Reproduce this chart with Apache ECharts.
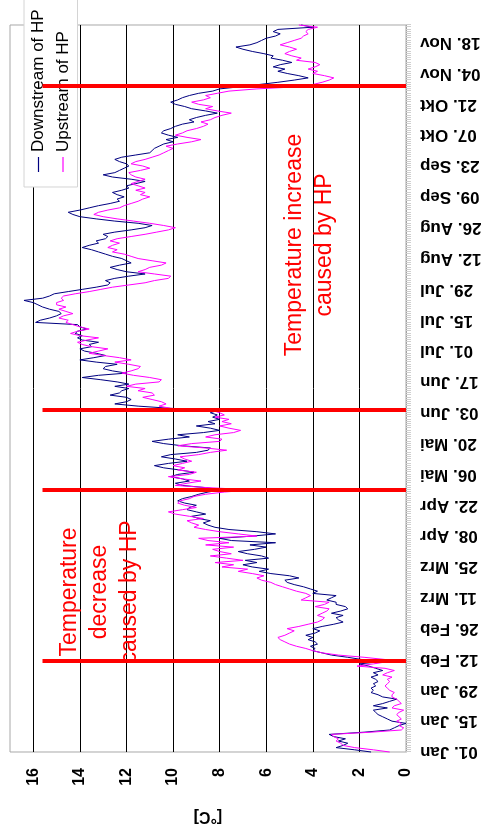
<!DOCTYPE html>
<html>
<head>
<meta charset="utf-8">
<script src="https://cdn.jsdelivr.net/npm/echarts@6/dist/echarts.min.js"></script>
<style>
  html, body { margin: 0; padding: 0; background: #fff; }
  #frame { position: absolute; left: 0; top: 0; width: 493px; height: 832px; overflow: hidden; }
  /* chart is laid out landscape and turned a quarter turn anticlockwise */
  #chart { position: absolute; left: 0; top: 0; width: 832px; height: 493px;
           transform-origin: 0 0; transform: translate(0, 832px) rotate(-90deg); }
</style>
</head>
<body>
<div id="frame"><div id="chart"></div></div>
<script>
// daily water temperature, 01. Jan to 26. Nov (leap year)
const monthNames = ['Jan', 'Feb', 'Mrz', 'Apr', 'Mai', 'Jun', 'Jul', 'Aug', 'Sep', 'Okt', 'Nov', 'Dez'];
const monthLengths = [31, 29, 31, 30, 31, 30, 31, 31, 30, 31, 30, 31];
const dayCount = 331;

const downstream = [
  1.5, 2.2, 3.0, 2.7, 2.5, 2.9, 2.6, 3.1, 3.3, 1.8, 0.7,
  0.5, 0.3, 0.0, 0.6, 0.8, 1.0, 1.2, 1.3, 1.4, 0.8,
  1.4, 1.0, 0.7, 0.4, 1.0, 1.2, 1.5, 1.4, 1.5, 1.3,
  1.4, 1.2, 1.3, 1.5, 1.2, 1.4, 1.0, 1.3, 1.6, 2.0,
  1.1, 1.9, 2.5, 3.2, 3.6, 4.0, 3.9, 4.1, 3.8, 3.9,
  4.2, 4.0, 4.3, 3.9, 3.7, 4.0, 3.6, 3.1, 2.7, 2.9,
  3.0, 2.7, 3.2, 2.8, 2.5, 2.6, 3.0, 3.0, 3.4, 3.2,
  3.0, 4.0, 3.8, 4.1, 4.4, 4.8, 5.1, 5.2, 4.6, 5.0,
  5.8, 6.3, 5.9, 6.6, 7.0, 6.4, 6.9, 5.9, 6.2, 6.8,
  7.2, 6.5, 6.0, 6.7, 5.6, 7.5, 8.0, 6.6, 5.6, 6.4,
  7.6, 8.2, 8.5, 8.7, 8.4, 8.9, 9.2, 8.6, 9.0, 9.4,
  9.3, 9.0, 9.5, 9.8, 9.6, 9.2, 8.9, 8.5, 7.9, 8.6,
  9.6, 9.9, 9.3, 9.6, 10.1, 9.8, 9.1, 9.7, 10.4, 10.8,
  10.2, 9.4, 9.9, 10.5, 10.1, 9.0, 8.5, 8.4, 9.6, 10.4,
  10.9, 10.2, 9.3, 9.8, 8.7, 8.0, 8.4, 9.0, 8.2, 8.5,
  8.0, 8.3, 8.1, 8.4, 8.1, 10.1, 11.5, 12.5, 12.0, 11.8,
  12.0, 12.7, 12.3, 12.2, 11.9, 12.5, 11.9, 12.4, 13.1, 13.9,
  13.2, 12.0, 12.6, 13.0, 12.9, 12.4, 13.3, 14.0, 13.4, 12.9,
  13.3, 13.8, 14.0, 13.5, 13.6, 13.2, 13.9, 14.1, 13.9, 14.2,
  14.1, 13.7, 14.0, 14.1, 15.9, 15.7, 15.3, 15.0, 14.8, 14.9,
  15.3, 15.6, 15.8, 16.0, 16.4, 15.6, 15.3, 15.1, 14.5, 13.9,
  13.3, 12.8, 12.7, 12.9, 12.5, 11.9, 11.2, 12.0, 12.4, 12.7,
  12.3, 11.8, 12.0, 12.2, 12.6, 12.9, 13.2, 13.5, 13.9, 13.6,
  13.2, 13.3, 12.9, 12.8, 13.0, 12.5, 11.8, 11.2, 10.9, 11.5,
  12.5, 13.3, 14.0, 14.3, 14.5, 14.0, 13.6, 13.2, 12.7, 12.3,
  12.4, 12.1, 12.4, 12.6, 12.2, 11.9, 12.0, 11.6, 11.2, 11.8,
  12.6, 13.0, 12.5, 12.3, 12.1, 11.9, 12.0, 12.3, 12.5, 12.2,
  11.6, 11.0, 10.9, 10.8, 10.6, 10.4, 10.0, 10.3, 9.8, 10.2,
  10.5, 10.4, 10.1, 9.9, 9.6, 9.1, 9.3, 9.0, 8.6, 8.1,
  8.6, 9.2, 9.5, 9.9, 10.1, 9.8, 9.6, 9.3, 8.9, 8.3,
  8.0, 7.1, 6.3, 5.5, 4.8, 4.2, 4.6, 5.1, 5.5, 5.2,
  5.7, 5.4, 4.9, 5.3, 5.8, 5.7, 6.1, 6.6, 7.0, 7.3,
  6.7, 6.4, 6.2, 6.0, 5.6, 5.4, 5.7, 5.5, 4.0, 4.5
];

const upstream = [
  0.7, 1.4, 2.2, 2.7, 2.8, 3.0, 2.9, 3.1, 3.2, 1.5, 0.2,
  0.1, 0.3, 0.2, 0.4, 0.2, 0.3, 0.4, 0.3, 0.1, 0.6,
  0.5, 0.2, 0.3, 0.4, 0.6, 0.6, 0.5, 0.7, 0.8, 0.9,
  0.8, 0.7, 0.8, 0.6, 1.0, 0.8, 0.5, 0.9, 2.1, 1.4,
  0.8, 0.9, 1.8, 2.9, 3.6, 4.0, 4.3, 4.7, 5.0, 5.2,
  5.4, 5.5, 5.2, 5.0, 4.8, 5.1, 4.6, 4.2, 3.8, 3.6,
  3.5, 3.8, 3.6, 3.4, 3.3, 3.9, 3.5, 3.3, 4.5, 4.3,
  4.1, 4.3, 4.7, 5.0, 5.3, 5.6, 5.8, 6.2, 6.4, 6.1,
  6.6, 7.2, 6.8, 7.9, 7.4, 8.2, 7.0, 7.7, 8.4, 7.5,
  8.0, 8.3, 7.4, 8.6, 7.6, 8.5, 8.9, 6.4, 7.2, 8.0,
  8.6, 9.1, 8.9, 9.2, 9.4, 8.7, 9.3, 9.9, 10.2, 9.6,
  9.0, 9.5, 9.8, 9.7, 9.3, 9.1, 8.6, 7.8, 6.6, 8.5,
  9.9, 9.4, 8.8, 9.6, 10.2, 9.3, 9.0, 9.8, 9.5, 10.0,
  9.6, 9.2, 9.5, 9.7, 8.9, 8.4, 7.7, 8.6, 9.8, 9.2,
  8.0, 7.9, 8.6, 8.2, 7.4, 7.1, 7.6, 8.0, 7.5, 7.9,
  7.6, 8.2, 7.8, 8.0, 8.3, 10.1, 10.6, 10.3, 10.5, 10.9,
  11.3, 10.8, 10.9, 11.5, 11.2, 12.0, 11.6, 10.6, 10.5, 11.0,
  11.7, 12.2, 11.8, 11.5, 11.4, 11.9, 12.5, 11.8, 12.3, 13.0,
  13.6, 13.2, 12.8, 13.5, 13.9, 14.1, 13.7, 13.2, 14.0, 14.4,
  14.1, 13.6, 14.0, 14.3, 14.6, 14.5, 14.9, 14.7, 14.3, 14.6,
  14.9, 14.6, 15.0, 15.0, 14.7, 14.8, 14.7, 14.2, 13.6, 13.1,
  12.6, 11.9, 11.2, 10.8, 10.2, 10.1, 10.8, 11.5, 11.2, 11.0,
  10.5, 10.3, 10.9, 11.5, 11.8, 12.1, 12.6, 12.4, 12.8, 12.6,
  12.3, 12.7, 12.4, 11.8, 11.2, 10.7, 10.2, 9.9, 10.4, 11.0,
  11.7, 12.4, 13.0, 13.4, 13.2, 12.8, 12.3, 12.1, 11.8, 11.5,
  11.3, 11.0, 11.4, 11.2, 11.6, 11.2, 11.5, 11.8, 11.5, 11.2,
  11.6, 11.8, 11.9, 11.4, 11.0, 11.3, 11.8, 11.6, 11.2, 10.9,
  10.6, 10.4, 10.2, 10.0, 10.3, 9.8, 9.2, 8.8, 9.4, 9.9,
  9.6, 9.4, 9.0, 8.7, 8.5, 8.8, 8.4, 8.2, 7.9, 7.5,
  8.1, 8.6, 8.3, 8.9, 9.2, 8.7, 8.4, 8.6, 8.1, 7.6,
  6.4, 4.6, 4.0, 3.6, 3.3, 3.1, 3.5, 4.0, 3.8, 4.2,
  3.9, 3.7, 3.9, 4.7, 4.5, 4.9, 5.2, 5.0, 4.7, 5.0,
  5.4, 5.1, 4.8, 4.5, 4.4, 4.2, 4.3, 4.2, 3.8, 4.6
];

// dates on which the heat pump influence changes
const markerDates = ['11. Feb', '29. Apr', '04. Jun', '29. Okt'];
const valueTicks = [0, 2, 4, 6, 8, 10, 12, 14, 16];

const seriesNames = ['Downstream of HP', 'Upstream of HP'];
const notes = [
  { text: 'Temperature\ndecrease\ncaused by HP', x: 240, y: 100 },
  { text: 'Temperature increase\ncaused by HP', x: 587, y: 310 }
];

// build "dd. Mon" labels for each day
const days = [];
for (let m = 0; m < 12 && days.length < dayCount; m++) {
  for (let d = 1; d <= monthLengths[m] && days.length < dayCount; d++) {
    days.push((d < 10 ? '0' : '') + d + '. ' + monthNames[m]);
  }
}

const FONT = '"Liberation Sans", Arial, sans-serif';
const chart = echarts.init(document.getElementById('chart'), null, { renderer: 'canvas' });

chart.setOption({
  animation: false,
  backgroundColor: '#fff',
  textStyle: { fontFamily: FONT, color: '#000' },
  grid: { left: 68, right: 25, top: 10, bottom: 87, show: true,
          borderColor: '#a8a8a8', borderWidth: 1, backgroundColor: 'transparent' },
  legend: {
    orient: 'vertical', left: 645, top: 24,
    padding: [5, 10, 5, 15], itemGap: 5.5, itemWidth: 15, itemHeight: 1.2,
    icon: 'rect',
    backgroundColor: '#fff', borderColor: '#d4d4d4', borderWidth: 1,
    textStyle: { fontFamily: FONT, fontSize: 17, color: '#000', lineHeight: 19 },
    data: seriesNames
  },
  xAxis: {
    type: 'category', data: days, boundaryGap: false,
    axisLine: { lineStyle: { color: '#a0a0a0', width: 1 } },
    axisTick: { show: true, interval: 0, length: 5, lineStyle: { color: '#cfcfcf' } },
    axisLabel: { interval: 13, rotate: 90, margin: 14, fontSize: 17, fontWeight: 'bold',
                 fontFamily: FONT, color: '#000' },
    splitLine: { show: false }
  },
  yAxis: {
    type: 'value', min: valueTicks[0], max: 17, interval: 2,
    name: '[°C]', nameLocation: 'middle', nameRotate: 90, nameGap: 56,
    nameTextStyle: { fontSize: 16, fontWeight: 'bold', fontFamily: FONT, color: '#000' },
    axisLine: { show: false }, axisTick: { show: false },
    axisLabel: { margin: 16, fontSize: 16, fontWeight: 'bold', fontFamily: FONT, color: '#000',
                 showMaxLabel: false,
                 formatter: v => (valueTicks.indexOf(v) >= 0 ? String(v) : '') },
    splitLine: { show: true, showMinLine: false, showMaxLine: false,
                 lineStyle: { color: '#000', width: 1 } }
  },
  graphic: notes.map(n => ({
    type: 'text', x: n.x, y: n.y, z: 50,
    style: { text: n.text, fill: '#ff0000', font: '23px ' + FONT, lineHeight: 30,
             textAlign: 'center', textVerticalAlign: 'middle', align: 'center', verticalAlign: 'middle' }
  })),
  series: [
    {
      name: seriesNames[0], type: 'line', data: downstream, symbol: 'none',
      lineStyle: { color: '#000080', width: 1 }, itemStyle: { color: '#000080' },
      markLine: {
        silent: true, symbol: 'none', label: { show: false },
        lineStyle: { color: '#ff0000', width: 4, type: 'solid' },
        data: markerDates.map(d => [{ coord: [d, 15.6] }, { coord: [d, 0] }])
      },
      z: 2
    },
    {
      name: seriesNames[1], type: 'line', data: upstream, symbol: 'none',
      lineStyle: { color: '#ff00ff', width: 1 }, itemStyle: { color: '#ff00ff' },
      z: 3
    }
  ]
});
</script>
</body>
</html>
